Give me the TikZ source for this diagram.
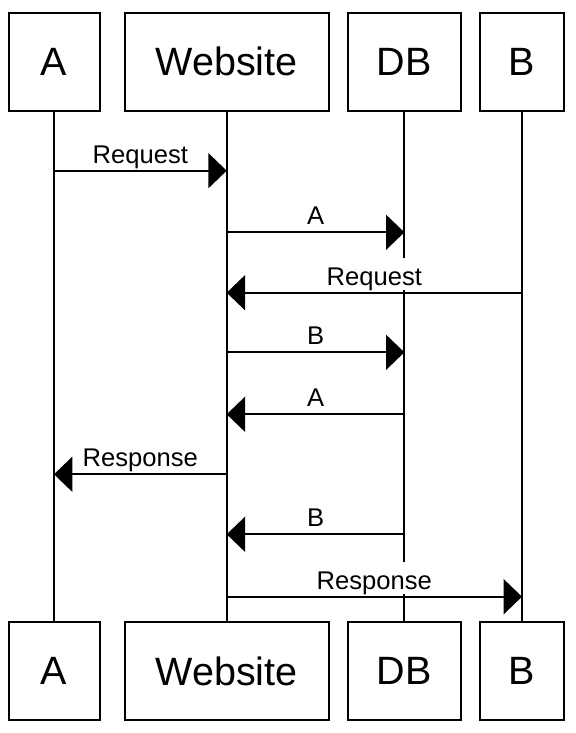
\documentclass[tikz,border=0pt]{standalone}
\usepackage{fontspec}
\setmainfont{Liberation Sans}
\usetikzlibrary{arrows.meta}

\tikzset{
  actor/.style={draw, line width=1pt, minimum height=49pt, inner sep=0pt,
    font=\fontsize{19.75}{22}\selectfont},
  life/.style={line width=0.95pt},
  msg/.style={line width=0.95pt, -{Triangle[length=9.2pt,width=17.5pt]}},
  msglabel/.style={fill=white, inner sep=0pt, text height=13.5pt, text depth=2.5pt,
    anchor=base, yshift=3.75pt, font=\fontsize{12.8}{15}\selectfont}
}

\begin{document}
\begin{tikzpicture}[x=0.5pt,y=-0.5pt]
\useasboundingbox (0,0) rectangle (575,733);
% boxes on top
\node[actor, minimum width=45.5pt] (A) at (54,61.7) {A};
\node[actor, minimum width=102pt] (W) at (226.7,61.7) {Website};
\node[actor, minimum width=56.2pt] (D) at (404.4,61.7) {DB};
\node[actor, minimum width=42.2pt] (B) at (522,61.7) {B};
% boxes at the bottom
\node[actor, minimum width=45.5pt] (A2) at (54,671.2) {A};
\node[actor, minimum width=102pt] (W2) at (226.7,671.2) {Website};
\node[actor, minimum width=56.2pt] (D2) at (404.4,671.2) {DB};
\node[actor, minimum width=42.2pt] (B2) at (522,671.2) {B};
% lifelines
\draw[life] (A) -- (A2);
\draw[life] (W) -- (W2);
\draw[life] (D) -- (D2);
\draw[life] (B) -- (B2);
% message rows
\coordinate (r1) at (0,170.7);
\coordinate (r2) at (0,232.3);
\coordinate (r3) at (0,292.7);
\coordinate (r4) at (0,352.3);
\coordinate (r5) at (0,414.3);
\coordinate (r6) at (0,474.3);
\coordinate (r7) at (0,534.3);
\coordinate (r8) at (0,596.7);
% messages
\draw[msg] (A |- r1) -- (W |- r1) node[msglabel, midway] {Request};
\draw[msg] (W |- r2) -- (D |- r2) node[msglabel, midway] {A};
\draw[msg] (B |- r3) -- (W |- r3) node[msglabel, midway] {Request};
\draw[msg] (W |- r4) -- (D |- r4) node[msglabel, midway] {B};
\draw[msg] (D |- r5) -- (W |- r5) node[msglabel, midway] {A};
\draw[msg] (W |- r6) -- (A |- r6) node[msglabel, midway] {Response};
\draw[msg] (D |- r7) -- (W |- r7) node[msglabel, midway] {B};
\draw[msg] (W |- r8) -- (B |- r8) node[msglabel, midway] {Response};
\end{tikzpicture}
\end{document}
